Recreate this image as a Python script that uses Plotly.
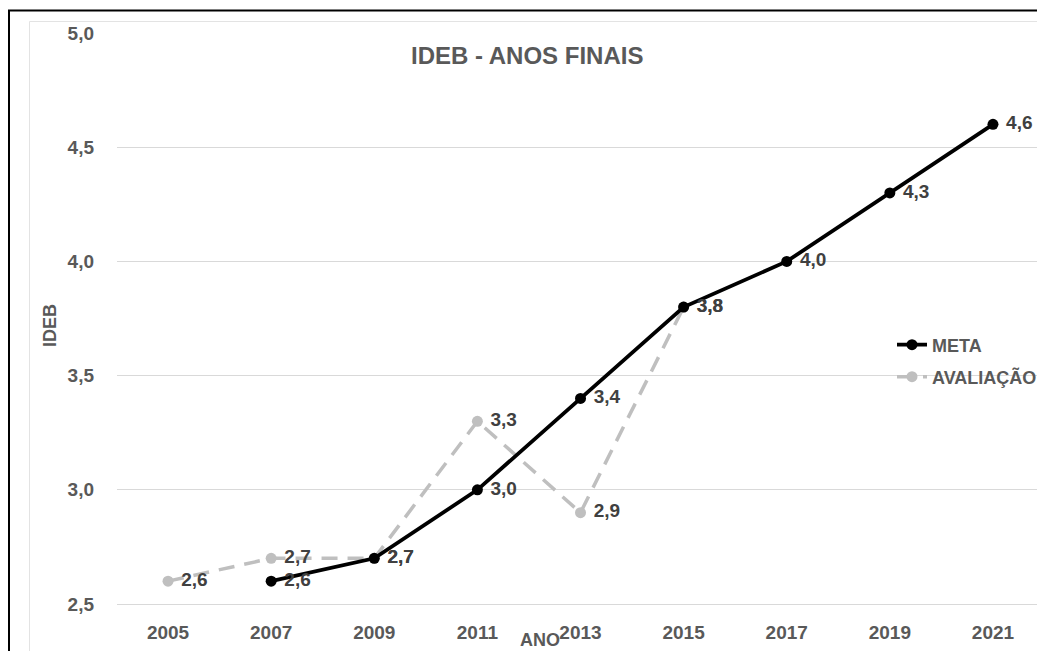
import plotly.graph_objects as go

anos = ["2005", "2007", "2009", "2011", "2013", "2015", "2017", "2019", "2021"]
meta = [None, 2.6, 2.7, 3.0, 3.4, 3.8, 4.0, 4.3, 4.6]
avaliacao = [2.6, 2.7, 2.7, 3.3, 2.9, 3.8, None, None, None]
y_ticks = [2.5, 3.0, 3.5, 4.0, 4.5, 5.0]

# screen geometry (page body has an 8px margin on every side)
OFF = 8
W, H = 1045 - 2 * OFF, 659 - 2 * OFF
L, R, T, B = 117, 1037, 33, 604   # plot area in screen pixels

def px(x):
    return (x - L) / (R - L)

def py(y):
    return (B - y) / (B - T)

FONT = "Liberation Sans, Arial, sans-serif"
TXT = "#595959"
LBL = "#404040"

fig = go.Figure()
fig.add_trace(go.Scatter(
    x=anos, y=avaliacao, name="AVALIAÇÃO", mode="lines+markers+text",
    line=dict(color="#BFBFBF", width=3.5, dash="16px,10px"),
    marker=dict(color="#BFBFBF", size=11),
    texttemplate=" %{y:.1f}", textposition="middle right",
    textfont=dict(family=FONT, size=19, color=LBL, weight="bold"),
    legend="legend2", hoverinfo="skip",
))
fig.add_trace(go.Scatter(
    x=anos, y=meta, name="META", mode="lines+markers+text",
    line=dict(color="#000000", width=3.8),
    marker=dict(color="#000000", size=11),
    texttemplate=" %{y:.1f}", textposition="middle right",
    textfont=dict(family=FONT, size=19, color=LBL, weight="bold"),
    legend="legend", hoverinfo="skip",
))

fig.update_layout(
    width=W, height=H, autosize=False,
    margin=dict(l=L - OFF, r=(W + OFF) - R, t=T - OFF, b=(H + OFF) - B,
                pad=0, autoexpand=False),
    paper_bgcolor="white", plot_bgcolor="white",
    separators=",.",
    font=dict(family=FONT, color=TXT),
    xaxis=dict(
        type="category", categoryorder="array", categoryarray=anos,
        range=[-0.495, 8.427], showgrid=False, showline=True, linecolor="#D9D9D9",
        linewidth=1, ticks="", ticklabelstandoff=11,
        tickfont=dict(family=FONT, size=19, color=TXT, weight="bold"),
        fixedrange=True,
    ),
    yaxis=dict(
        range=[2.5, 5.0], tickvals=y_ticks, tickformat=".1f",
        showgrid=True, gridcolor="#D9D9D9", gridwidth=1, zeroline=False,
        showline=False, ticks="", ticklabelstandoff=22,
        tickfont=dict(family=FONT, size=19, color=TXT, weight="bold"),
        fixedrange=True,
    ),
    legend=dict(
        x=px(892), y=py(345), xanchor="left", yanchor="middle",
        bgcolor="rgba(0,0,0,0)", borderwidth=0,
        font=dict(family=FONT, size=18, color=TXT, weight="bold"),
    ),
    legend2=dict(
        x=px(892), y=py(377), xanchor="left", yanchor="middle",
        bgcolor="rgba(0,0,0,0)", borderwidth=0,
        font=dict(family=FONT, size=18, color=TXT, weight="bold"),
    ),
    showlegend=True,
)

fig.add_annotation(
    text="IDEB - ANOS FINAIS", xref="paper", yref="paper",
    x=px(527), y=py(56), xanchor="center", yanchor="middle", showarrow=False,
    font=dict(family=FONT, size=24, color=TXT, weight="bold"),
)
fig.add_annotation(
    text="ANO", xref="paper", yref="paper",
    x=px(540), y=py(640), xanchor="center", yanchor="middle", showarrow=False,
    font=dict(family=FONT, size=18, color=TXT, weight="bold"),
)
fig.add_annotation(
    text="IDEB", xref="paper", yref="paper", textangle=-90,
    x=px(50), y=py(326), xanchor="center", yanchor="middle", showarrow=False,
    font=dict(family=FONT, size=18, color=TXT, weight="bold"),
)

# chart frame
fig.add_shape(type="line", xref="paper", yref="paper",
              x0=px(29.5), x1=px(1037), y0=py(21.5), y1=py(21.5),
              line=dict(color="#E3E3E3", width=1), layer="below")
fig.add_shape(type="line", xref="paper", yref="paper",
              x0=px(29.5), x1=px(29.5), y0=py(21.5), y1=py(659),
              line=dict(color="#E3E3E3", width=1), layer="below")
fig.add_shape(type="line", xref="paper", yref="paper",
              x0=px(8), x1=px(1045), y0=py(10.5), y1=py(10.5),
              line=dict(color="#000000", width=2))
fig.add_shape(type="line", xref="paper", yref="paper",
              x0=px(9), x1=px(9), y0=py(10), y1=py(659),
              line=dict(color="#000000", width=2))

fig.write_html("out.html")
